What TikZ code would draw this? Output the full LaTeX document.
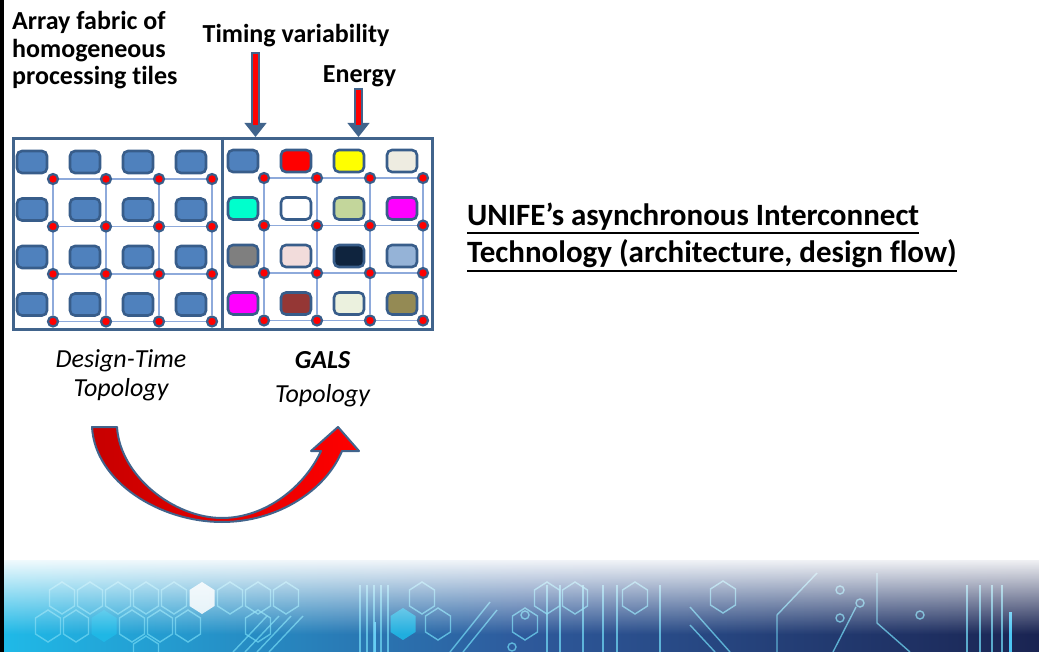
\documentclass[tikz,border=0pt]{standalone}
\usepackage{fontspec}
\setmainfont{Carlito}[Ligatures=NoCommon]
\usetikzlibrary{positioning,arrows.meta,fadings,backgrounds}

\definecolor{tileblue}{HTML}{4F81BD}
\definecolor{tileedge}{HTML}{385D8A}
\definecolor{framecol}{HTML}{41648C}
\definecolor{linkcol}{HTML}{8EAADB}
\definecolor{glowcyan}{HTML}{1FBAE8}
\definecolor{midblue}{HTML}{2E5A9C}
\definecolor{navy}{HTML}{1A2452}
\definecolor{tracecol}{HTML}{6FD6F2}
% GALS tile colours, row by row
\definecolor{g00}{HTML}{4F81BD}\definecolor{g01}{HTML}{FF0000}
\definecolor{g02}{HTML}{FFFF00}\definecolor{g03}{HTML}{EEECE1}
\definecolor{g10}{HTML}{00FFCC}\definecolor{g11}{HTML}{FFFFFF}
\definecolor{g12}{HTML}{C3D69B}\definecolor{g13}{HTML}{FF00FF}
\definecolor{g20}{HTML}{7F7F7F}\definecolor{g21}{HTML}{F2DCDB}
\definecolor{g22}{HTML}{0F243E}\definecolor{g23}{HTML}{95B3D7}
\definecolor{g30}{HTML}{FF00FF}\definecolor{g31}{HTML}{953735}
\definecolor{g32}{HTML}{EBF1DE}\definecolor{g33}{HTML}{948A54}

\tikzfading[name=whitefade,top color=transparent!0,bottom color=transparent!100]

\begin{document}
\begin{tikzpicture}[x=1pt,y=-1pt,
    tile/.style={draw=tileedge,line width=2.6pt,rounded corners=5pt,
        minimum width=30pt,minimum height=22pt,inner sep=0pt},
    router/.style={circle,draw=tileedge,fill=red,line width=2.2pt,
        minimum size=10pt,inner sep=0pt},
    link/.style={linkcol,line width=1.3pt},
    head/.style={font=\fontsize{26}{28}\selectfont\bfseries,inner sep=0pt},
    caption/.style={font=\fontsize{26}{28}\selectfont\itshape,inner sep=0pt,anchor=base},
    title/.style={font=\fontsize{31}{35}\selectfont\bfseries,inner sep=0pt,anchor=base west},
    feed/.style={framecol,line width=9pt},
    trace/.style={tracecol,line width=1.4pt,opacity=0.75}]

\useasboundingbox (0,0) rectangle (1039,652);

% circuit strip at the bottom
\shade[left color=glowcyan,right color=navy,middle color=midblue] (0,560) rectangle (1039,652);
\foreach \x/\y in {62/598,90/598,118/598,146/598,174/598,230/598,258/598,286/598,
    48/626,76/626,132/626,160/626,188/626,258/626,146/652,
    422/598,438/624,525/624,547/598,575/598,635/598,723/597}
  \draw[trace,shift={(\x,\y)}] (0,-16) -- (12.5,-8) -- (12.5,8) -- (0,16) -- (-12.5,8) -- (-12.5,-8) -- cycle;
\foreach \x/\y/\c in {202/598/white,104/626/glowcyan,403/624/glowcyan}
  \fill[\c,opacity=0.85,shift={(\x,\y)}] (0,-16) -- (12.5,-8) -- (12.5,8) -- (0,16) -- (-12.5,8) -- (-12.5,-8) -- cycle;
\foreach \x/\y in {525/615,512/647,840/590,860/603,840/618,920/615}
  \draw[trace] (\x,\y) circle (4);
\foreach \x in {360,367,374,381,388,547,560,583,603,617,660,967,980,992,1002}
  \draw[trace] (\x,585) -- (\x,652);
\foreach \x in {233,245,257,269}
  \draw[trace] (\x,652) -- (\x+34,616);
\draw[trace] (450,652) -- (490,602);
\draw[trace] (463,652) -- (497,610);
\draw[trace] (690,607) -- (730,652);
\draw[trace] (690,625) -- (715,652);
\draw[trace] (777,652) -- (777,615) -- (817,573);
\draw[trace] (877,573) -- (877,623) -- (910,652);
\draw[trace] (856,607) -- (833,652);
\draw[white!40!cyan,line width=2.5pt] (375,622) -- (375,652);
\draw[white!30!cyan,line width=3pt] (1010,612) -- (1010,652);
\fill[white,path fading=whitefade] (0,555) rectangle (1039,634);
\fill[black] (0,0) rectangle (4,652);

% labels
\node[head,anchor=base west] (fab1) at (12,30) {Array fabric of};
\node[head,anchor=base west] (fab2) at (12,58) {homogeneous};
\node[head,anchor=base west] (fab3) at (12,85) {processing tiles};
\node[head,anchor=base] (timing) at (296,43) {Timing variability};
\node[head,anchor=base] (energy) at (359.5,83) {Energy};

% array fabric
\node[draw=framecol,line width=3pt,minimum width=419pt,minimum height=191pt,inner sep=0pt] (fabric) at (222.5,234) {};
\draw[framecol,line width=3pt] (fabric.north) -- (fabric.south);

\foreach \r in {0,...,3}
  \foreach \c in {0,...,3}{
    \node[tile,fill=tileblue] (lt\r\c) at ({32+53*\c},{162+47.5*\r}) {};
    \node[router] (lr\r\c) at ({53+53*\c},{179+47.5*\r}) {};
    \node[tile,fill=g\r\c] (gt\r\c) at ({243+53*\c},{161+47.5*\r}) {};
    \node[router] (gr\r\c) at ({264+53*\c},{178+47.5*\r}) {};
  }
\begin{scope}[on background layer]
\foreach \i in {0,...,3}{
  \draw[link] (lr\i0) -- (lr\i3);
  \draw[link] (lr0\i) -- (lr3\i);
  \draw[link] (gr\i0) -- (gr\i3);
  \draw[link] (gr0\i) -- (gr3\i);
}
\end{scope}

% timing / energy inputs
\coordinate (tvtail) at (255.5,52);
\coordinate (entail) at (358.5,88);
\foreach \t in {tvtail,entail}{
  \draw[framecol,line width=1pt,-{Triangle[length=14pt,width=22pt]}] (\t) -- (\t |- fabric.north);
  \draw[feed,shorten >=12pt] (\t) -- (\t |- fabric.north);
  \draw[red,line width=4.5pt,shorten >=12pt,shorten <=2pt] (\t) -- (\t |- fabric.north);
}

\node[caption] (dtt1) at (121,367) {Design-Time};
\node[caption] (dtt2) at (121,396) {Topology};
\node[caption,font=\fontsize{26}{28}\selectfont\bfseries\itshape] (gals1) at (322.5,368) {GALS};
\node[caption] (gals2) at (322.5,402) {Topology};

% curved arrow
\draw[framecol,line width=2pt,line join=round,left color=red!78!black,right color=red]
  (92,427) .. controls (95,482) and (160,522) .. (222,522)
  .. controls (278,522) and (326,490) .. (342,451) -- (359,451) -- (338,427)
  -- (311,451) -- (321,451) .. controls (305,486) and (266,518) .. (222,518)
  .. controls (174,518) and (120,476) .. (117,427) -- cycle;

\node[title] (unife1) at (467,226) {UNIFE’s asynchronous Interconnect};
\node[title] (unife2) at (467,263) {Technology (architecture, design flow)};
\draw[line width=2pt] ([yshift=-2pt]unife1.south west) -- ([yshift=-2pt]unife1.south east);
\draw[line width=2pt] ([yshift=-3pt]unife2.south west) -- ([yshift=-3pt]unife2.south east);
\end{tikzpicture}
\end{document}
